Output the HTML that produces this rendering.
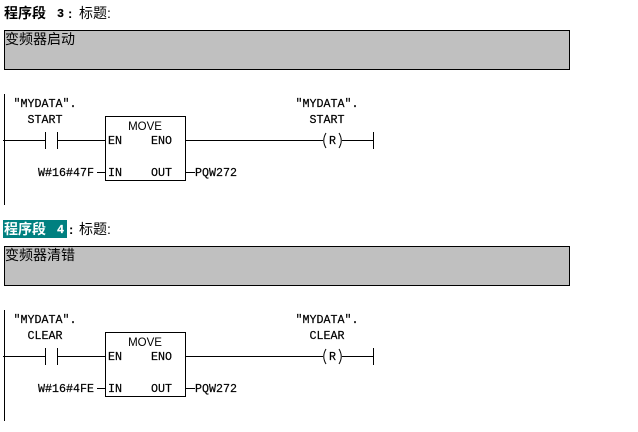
<!DOCTYPE html>
<html><head><meta charset="utf-8"><style>
html,body{margin:0;padding:0;background:#fff;width:638px;height:432px;overflow:hidden}
svg{display:block}
.m{font-family:"Liberation Mono",monospace;font-size:11.67px;fill:#000;stroke:#000;stroke-width:.2}
.c{text-anchor:middle}
.s{font-family:"Liberation Sans",sans-serif;font-size:11.5px;fill:#000;text-anchor:middle}
.z{font-family:"Liberation Sans","WenQuanYi Zen Hei","Noto Sans CJK SC",sans-serif;font-size:14px;fill:#000}
.b{font-weight:bold}
line,rect{shape-rendering:crispEdges}
</style></head><body>
<svg width="638" height="432" viewBox="0 0 638 432" xmlns="http://www.w3.org/2000/svg">
<defs>
<g id="net" stroke="#000" stroke-width="1" fill="none">
<line x1="4.5" y1="94" x2="4.5" y2="205"/>
<line x1="3" y1="140.5" x2="45" y2="140.5"/>
<line x1="45.5" y1="132" x2="45.5" y2="149"/>
<line x1="57.5" y1="132" x2="57.5" y2="149"/>
<line x1="57" y1="140.5" x2="105" y2="140.5"/>
<rect x="105.5" y="116.5" width="80" height="64" fill="#fff"/>
<line x1="186" y1="140.5" x2="323" y2="140.5"/>
<path d="M326 133 Q321.5 140.5 326 148" />
<path d="M339 133 Q343.5 140.5 339 148" />
<line x1="342" y1="140.5" x2="373" y2="140.5"/>
<line x1="373.5" y1="132" x2="373.5" y2="149"/>
<line x1="97" y1="172.5" x2="105" y2="172.5"/>
<line x1="186" y1="172.5" x2="195" y2="172.5"/>
</g>
<g id="labels">
<text class="s" x="145" y="130">MOVE</text>
<text class="m" x="108" y="144">EN</text>
<text class="m" x="151" y="144">ENO</text>
<text class="m" x="108" y="176">IN</text>
<text class="m" x="151" y="176">OUT</text>
<text class="m" x="195" y="176">PQW272</text>
<text class="m" x="329" y="144">R</text>
</g>
</defs>

<text class="z b" x="4" y="18">程序段</text>
<text class="m b" x="57" y="17">3</text>
<text class="z b" x="68" y="18" style="font-size:13px">:</text>
<text class="z" x="79" y="18">标题</text>
<text class="z" x="107" y="18">:</text>
<rect x="4.5" y="30.5" width="565" height="39" fill="#c0c0c0" stroke="#000"/>
<text class="z" x="5" y="44">变频器启动</text>

<use href="#net"/>
<use href="#labels"/>
<text class="m c" x="45" y="107">″MYDATA″.</text>
<text class="m c" x="45" y="123">START</text>
<text class="m" x="38" y="176">W#16#47F</text>
<text class="m c" x="327" y="107">″MYDATA″.</text>
<text class="m c" x="327" y="123">START</text>

<rect x="3" y="220" width="64" height="18" fill="#008080"/>
<rect x="2.5" y="219.5" width="65" height="19" fill="none" stroke="#fff" stroke-dasharray="1 1"/>
<text class="z b" x="4" y="234" style="fill:#fff">程序段</text>
<text class="m b" x="57" y="233" style="fill:#fff;stroke:#fff">4</text>
<text class="z b" x="69" y="234" style="font-size:13px">:</text>
<text class="z" x="79" y="234">标题</text>
<text class="z" x="107" y="234">:</text>
<rect x="4.5" y="246.5" width="565" height="39" fill="#c0c0c0" stroke="#000"/>
<text class="z" x="5" y="260">变频器清错</text>

<g transform="translate(0,216)">
<use href="#net"/>
<use href="#labels"/>
<text class="m c" x="45" y="107">″MYDATA″.</text>
<text class="m c" x="45" y="123">CLEAR</text>
<text class="m" x="38" y="176">W#16#4FE</text>
<text class="m c" x="327" y="107">″MYDATA″.</text>
<text class="m c" x="327" y="123">CLEAR</text>
</g>
</svg>
</body></html>
